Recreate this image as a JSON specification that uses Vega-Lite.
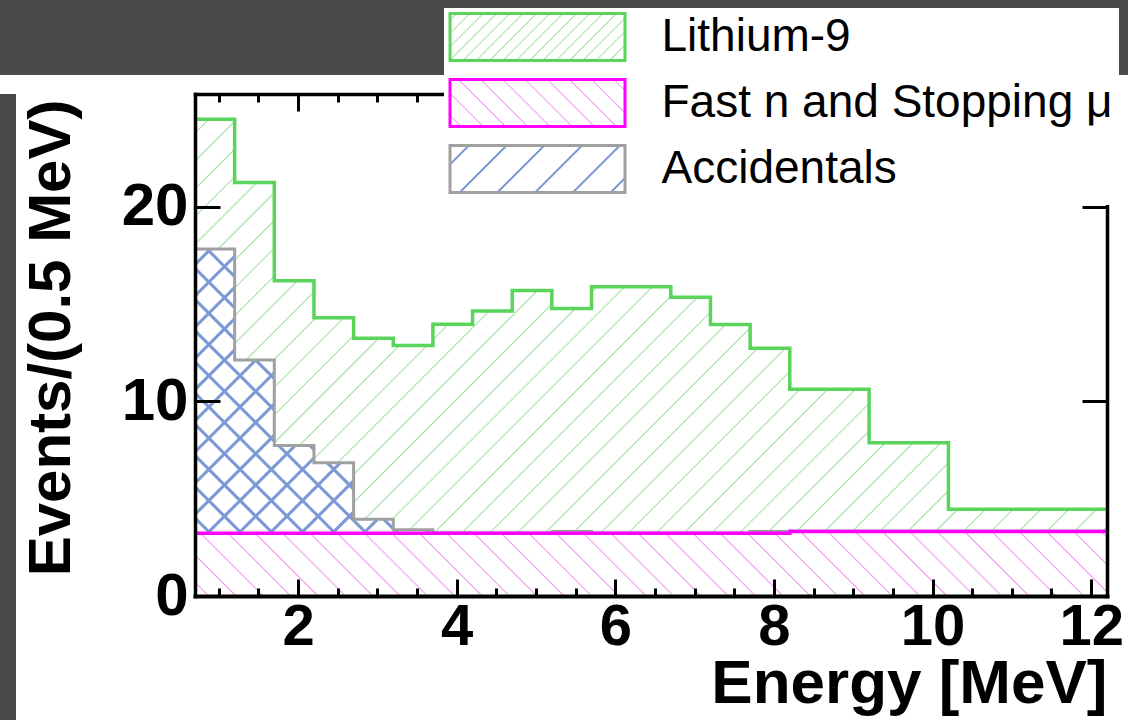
{
  "$schema": "https://vega.github.io/schema/vega-lite/v6.json",
  "background": "white",
  "padding": 0,
  "columns": 2,
  "spacing": {"row": 19, "column": 0},
  "bounds": "flush",
  "config": {
    "font": "Liberation Sans",
    "axis": {"labelFont": "Liberation Sans", "titleFont": "Liberation Sans"},
    "legend": {"labelFont": "Liberation Sans"}
  },
  "concat": [
    {"width": 195, "height": 75, "data": {"values": []}, "mark": "rect", "view": {"fill": "#4a4a4a", "stroke": null}},
    {"width": 933, "height": 75, "data": {"values": []}, "mark": "rect", "view": {"fill": "#4a4a4a", "stroke": null}},
    {"width": 16, "height": 626, "data": {"values": []}, "mark": "rect", "view": {"fill": "#4a4a4a", "stroke": null}},
    {
      "width": 912,
      "height": 502,
      "view": {"stroke": null},
      "data": {"values": [
        {"lo": 0.7, "hi": 1.2, "li9": 6.67, "fastn": 3.22, "acc": 14.61},
        {"lo": 1.2, "hi": 1.7, "li9": 9.12, "fastn": 3.22, "acc": 8.91},
        {"lo": 1.7, "hi": 2.2, "li9": 8.47, "fastn": 3.22, "acc": 4.51},
        {"lo": 2.2, "hi": 2.7, "li9": 7.45, "fastn": 3.22, "acc": 3.63},
        {"lo": 2.7, "hi": 3.2, "li9": 9.31, "fastn": 3.22, "acc": 0.72},
        {"lo": 3.2, "hi": 3.7, "li9": 9.46, "fastn": 3.22, "acc": 0.19},
        {"lo": 3.7, "hi": 4.2, "li9": 10.72, "fastn": 3.22, "acc": 0.03},
        {"lo": 4.2, "hi": 4.7, "li9": 11.41, "fastn": 3.22, "acc": 0.02},
        {"lo": 4.7, "hi": 5.2, "li9": 12.46, "fastn": 3.22, "acc": 0.02},
        {"lo": 5.2, "hi": 5.7, "li9": 11.45, "fastn": 3.22, "acc": 0.1},
        {"lo": 5.7, "hi": 6.2, "li9": 12.66, "fastn": 3.22, "acc": 0.02},
        {"lo": 6.2, "hi": 6.7, "li9": 12.66, "fastn": 3.22, "acc": 0.02},
        {"lo": 6.7, "hi": 7.2, "li9": 12.12, "fastn": 3.22, "acc": 0.02},
        {"lo": 7.2, "hi": 7.7, "li9": 10.71, "fastn": 3.22, "acc": 0.02},
        {"lo": 7.7, "hi": 8.2, "li9": 9.41, "fastn": 3.22, "acc": 0.1},
        {"lo": 8.2, "hi": 9.2, "li9": 7.29, "fastn": 3.32, "acc": 0.02},
        {"lo": 9.2, "hi": 10.2, "li9": 4.54, "fastn": 3.32, "acc": 0.02},
        {"lo": 10.2, "hi": 12.2, "li9": 1.12, "fastn": 3.32, "acc": 0.02}
      ]},
      "transform": [
        {"calculate": "datum.fastn", "as": "s1"},
        {"calculate": "datum.fastn + datum.acc", "as": "s2"},
        {"calculate": "datum.fastn + datum.acc + datum.li9", "as": "s3"},
        {"fold": ["lo", "hi"], "as": ["edge", "energy"]}
      ],
      "resolve": {"axis": {"x": "independent", "y": "independent"}},
      "layer": [
        {
          "mark": {"type": "area", "fillOpacity": 1, "fill": {"gradient": "linear", "x1": 0, "y1": 0, "x2": 1.196, "y2": 0.6251, "stops": [
            {"offset":0.0089,"color":"#fff"},{"offset":0.01,"color":"#9fe09f"},{"offset":0.0111,"color":"#fff"},
            {"offset":0.0289,"color":"#fff"},{"offset":0.03,"color":"#9fe09f"},{"offset":0.0311,"color":"#fff"},
            {"offset":0.0489,"color":"#fff"},{"offset":0.05,"color":"#9fe09f"},{"offset":0.0511,"color":"#fff"},
            {"offset":0.0689,"color":"#fff"},{"offset":0.07,"color":"#9fe09f"},{"offset":0.0711,"color":"#fff"},
            {"offset":0.0889,"color":"#fff"},{"offset":0.09,"color":"#9fe09f"},{"offset":0.0911,"color":"#fff"},
            {"offset":0.1089,"color":"#fff"},{"offset":0.11,"color":"#9fe09f"},{"offset":0.1111,"color":"#fff"},
            {"offset":0.1289,"color":"#fff"},{"offset":0.13,"color":"#9fe09f"},{"offset":0.1311,"color":"#fff"},
            {"offset":0.1489,"color":"#fff"},{"offset":0.15,"color":"#9fe09f"},{"offset":0.1511,"color":"#fff"},
            {"offset":0.1689,"color":"#fff"},{"offset":0.17,"color":"#9fe09f"},{"offset":0.1711,"color":"#fff"},
            {"offset":0.1889,"color":"#fff"},{"offset":0.19,"color":"#9fe09f"},{"offset":0.1911,"color":"#fff"},
            {"offset":0.2089,"color":"#fff"},{"offset":0.21,"color":"#9fe09f"},{"offset":0.2111,"color":"#fff"},
            {"offset":0.2289,"color":"#fff"},{"offset":0.23,"color":"#9fe09f"},{"offset":0.2311,"color":"#fff"},
            {"offset":0.2489,"color":"#fff"},{"offset":0.25,"color":"#9fe09f"},{"offset":0.2511,"color":"#fff"},
            {"offset":0.2689,"color":"#fff"},{"offset":0.27,"color":"#9fe09f"},{"offset":0.2711,"color":"#fff"},
            {"offset":0.2889,"color":"#fff"},{"offset":0.29,"color":"#9fe09f"},{"offset":0.2911,"color":"#fff"},
            {"offset":0.3089,"color":"#fff"},{"offset":0.31,"color":"#9fe09f"},{"offset":0.3111,"color":"#fff"},
            {"offset":0.3289,"color":"#fff"},{"offset":0.33,"color":"#9fe09f"},{"offset":0.3311,"color":"#fff"},
            {"offset":0.3489,"color":"#fff"},{"offset":0.35,"color":"#9fe09f"},{"offset":0.3511,"color":"#fff"},
            {"offset":0.3689,"color":"#fff"},{"offset":0.37,"color":"#9fe09f"},{"offset":0.3711,"color":"#fff"},
            {"offset":0.3889,"color":"#fff"},{"offset":0.39,"color":"#9fe09f"},{"offset":0.3911,"color":"#fff"},
            {"offset":0.4089,"color":"#fff"},{"offset":0.41,"color":"#9fe09f"},{"offset":0.4111,"color":"#fff"},
            {"offset":0.4289,"color":"#fff"},{"offset":0.43,"color":"#9fe09f"},{"offset":0.4311,"color":"#fff"},
            {"offset":0.4489,"color":"#fff"},{"offset":0.45,"color":"#9fe09f"},{"offset":0.4511,"color":"#fff"},
            {"offset":0.4689,"color":"#fff"},{"offset":0.47,"color":"#9fe09f"},{"offset":0.4711,"color":"#fff"},
            {"offset":0.4889,"color":"#fff"},{"offset":0.49,"color":"#9fe09f"},{"offset":0.4911,"color":"#fff"},
            {"offset":0.5089,"color":"#fff"},{"offset":0.51,"color":"#9fe09f"},{"offset":0.5111,"color":"#fff"},
            {"offset":0.5289,"color":"#fff"},{"offset":0.53,"color":"#9fe09f"},{"offset":0.5311,"color":"#fff"},
            {"offset":0.5489,"color":"#fff"},{"offset":0.55,"color":"#9fe09f"},{"offset":0.5511,"color":"#fff"},
            {"offset":0.5689,"color":"#fff"},{"offset":0.57,"color":"#9fe09f"},{"offset":0.5711,"color":"#fff"},
            {"offset":0.5889,"color":"#fff"},{"offset":0.59,"color":"#9fe09f"},{"offset":0.5911,"color":"#fff"},
            {"offset":0.6089,"color":"#fff"},{"offset":0.61,"color":"#9fe09f"},{"offset":0.6111,"color":"#fff"},
            {"offset":0.6289,"color":"#fff"},{"offset":0.63,"color":"#9fe09f"},{"offset":0.6311,"color":"#fff"},
            {"offset":0.6489,"color":"#fff"},{"offset":0.65,"color":"#9fe09f"},{"offset":0.6511,"color":"#fff"},
            {"offset":0.6689,"color":"#fff"},{"offset":0.67,"color":"#9fe09f"},{"offset":0.6711,"color":"#fff"},
            {"offset":0.6889,"color":"#fff"},{"offset":0.69,"color":"#9fe09f"},{"offset":0.6911,"color":"#fff"},
            {"offset":0.7089,"color":"#fff"},{"offset":0.71,"color":"#9fe09f"},{"offset":0.7111,"color":"#fff"},
            {"offset":0.7289,"color":"#fff"},{"offset":0.73,"color":"#9fe09f"},{"offset":0.7311,"color":"#fff"},
            {"offset":0.7489,"color":"#fff"},{"offset":0.75,"color":"#9fe09f"},{"offset":0.7511,"color":"#fff"},
            {"offset":0.7689,"color":"#fff"},{"offset":0.77,"color":"#9fe09f"},{"offset":0.7711,"color":"#fff"},
            {"offset":0.7889,"color":"#fff"},{"offset":0.79,"color":"#9fe09f"},{"offset":0.7911,"color":"#fff"},
            {"offset":0.8089,"color":"#fff"},{"offset":0.81,"color":"#9fe09f"},{"offset":0.8111,"color":"#fff"},
            {"offset":0.8289,"color":"#fff"},{"offset":0.83,"color":"#9fe09f"},{"offset":0.8311,"color":"#fff"},
            {"offset":0.8489,"color":"#fff"},{"offset":0.85,"color":"#9fe09f"},{"offset":0.8511,"color":"#fff"},
            {"offset":0.8689,"color":"#fff"},{"offset":0.87,"color":"#9fe09f"},{"offset":0.8711,"color":"#fff"},
            {"offset":0.8889,"color":"#fff"},{"offset":0.89,"color":"#9fe09f"},{"offset":0.8911,"color":"#fff"},
            {"offset":0.9089,"color":"#fff"},{"offset":0.91,"color":"#9fe09f"},{"offset":0.9111,"color":"#fff"},
            {"offset":0.9289,"color":"#fff"},{"offset":0.93,"color":"#9fe09f"},{"offset":0.9311,"color":"#fff"},
            {"offset":0.9489,"color":"#fff"},{"offset":0.95,"color":"#9fe09f"},{"offset":0.9511,"color":"#fff"},
            {"offset":0.9689,"color":"#fff"},{"offset":0.97,"color":"#9fe09f"},{"offset":0.9711,"color":"#fff"},
            {"offset":0.9889,"color":"#fff"},{"offset":0.99,"color":"#9fe09f"},{"offset":0.9911,"color":"#fff"}
          ]}},
          "encoding": {
            "x": {"field": "energy", "type": "quantitative", "scale": {"domain": [0.7, 12.2], "nice": false, "zero": false},
              "axis": {"orient": "bottom", "values": [2, 4, 6, 8, 10, 12], "format": "d", "ticks": false, "tickSize": 0, "domain": false, "grid": false,
                "labelFontSize": 58, "labelFontWeight": "bold", "labelColor": "black", "labelBaseline": "alphabetic", "labelPadding": 48, "labelFlush": false, "labelOverlap": false,
                "title": "Energy [MeV]", "titleFontSize": 62, "titleFontWeight": "bold", "titleColor": "black", "titleAlign": "right", "titleBaseline": "alphabetic", "titleX": 912, "titleY": 106, "zindex": 1}},
            "y": {"field": "s3", "type": "quantitative", "stack": null, "scale": {"domain": [0, 25.8], "nice": false},
              "axis": {"orient": "left", "values": [0, 10, 20], "format": "d", "ticks": false, "tickSize": 0, "domain": false, "grid": false,
                "labelFontSize": 60, "labelFontWeight": "bold", "labelColor": "black", "labelBaseline": "middle", "labelPadding": 7, "labelFlush": false, "labelOverlap": false,
                "title": "Events/(0.5 MeV)", "titleFontSize": 60, "titleFontWeight": "bold", "titleColor": "black", "titleAngle": -90, "titleAlign": "right", "titleBaseline": "alphabetic", "titleX": -126, "titleY": 5, "zindex": 1}}
          }
        },
        {
          "transform": [{"filter": "datum.lo < 4"}],
          "mark": {"type": "area", "fillOpacity": 1, "fill": {"gradient": "linear", "x1": 0, "y1": 0, "x2": 0.8778, "y2": 1.0977, "stops": [
            {"offset":0.0205,"color":"#fff"},{"offset":0.0225,"color":"#7d99d6"},{"offset":0.0275,"color":"#7d99d6"},{"offset":0.0295,"color":"#fff"},
            {"offset":0.0705,"color":"#fff"},{"offset":0.0725,"color":"#7d99d6"},{"offset":0.0775,"color":"#7d99d6"},{"offset":0.0795,"color":"#fff"},
            {"offset":0.1205,"color":"#fff"},{"offset":0.1225,"color":"#7d99d6"},{"offset":0.1275,"color":"#7d99d6"},{"offset":0.1295,"color":"#fff"},
            {"offset":0.1705,"color":"#fff"},{"offset":0.1725,"color":"#7d99d6"},{"offset":0.1775,"color":"#7d99d6"},{"offset":0.1795,"color":"#fff"},
            {"offset":0.2205,"color":"#fff"},{"offset":0.2225,"color":"#7d99d6"},{"offset":0.2275,"color":"#7d99d6"},{"offset":0.2295,"color":"#fff"},
            {"offset":0.2705,"color":"#fff"},{"offset":0.2725,"color":"#7d99d6"},{"offset":0.2775,"color":"#7d99d6"},{"offset":0.2795,"color":"#fff"},
            {"offset":0.3205,"color":"#fff"},{"offset":0.3225,"color":"#7d99d6"},{"offset":0.3275,"color":"#7d99d6"},{"offset":0.3295,"color":"#fff"},
            {"offset":0.3705,"color":"#fff"},{"offset":0.3725,"color":"#7d99d6"},{"offset":0.3775,"color":"#7d99d6"},{"offset":0.3795,"color":"#fff"},
            {"offset":0.4205,"color":"#fff"},{"offset":0.4225,"color":"#7d99d6"},{"offset":0.4275,"color":"#7d99d6"},{"offset":0.4295,"color":"#fff"},
            {"offset":0.4705,"color":"#fff"},{"offset":0.4725,"color":"#7d99d6"},{"offset":0.4775,"color":"#7d99d6"},{"offset":0.4795,"color":"#fff"},
            {"offset":0.5205,"color":"#fff"},{"offset":0.5225,"color":"#7d99d6"},{"offset":0.5275,"color":"#7d99d6"},{"offset":0.5295,"color":"#fff"},
            {"offset":0.5705,"color":"#fff"},{"offset":0.5725,"color":"#7d99d6"},{"offset":0.5775,"color":"#7d99d6"},{"offset":0.5795,"color":"#fff"},
            {"offset":0.6205,"color":"#fff"},{"offset":0.6225,"color":"#7d99d6"},{"offset":0.6275,"color":"#7d99d6"},{"offset":0.6295,"color":"#fff"},
            {"offset":0.6705,"color":"#fff"},{"offset":0.6725,"color":"#7d99d6"},{"offset":0.6775,"color":"#7d99d6"},{"offset":0.6795,"color":"#fff"},
            {"offset":0.7205,"color":"#fff"},{"offset":0.7225,"color":"#7d99d6"},{"offset":0.7275,"color":"#7d99d6"},{"offset":0.7295,"color":"#fff"},
            {"offset":0.7705,"color":"#fff"},{"offset":0.7725,"color":"#7d99d6"},{"offset":0.7775,"color":"#7d99d6"},{"offset":0.7795,"color":"#fff"},
            {"offset":0.8205,"color":"#fff"},{"offset":0.8225,"color":"#7d99d6"},{"offset":0.8275,"color":"#7d99d6"},{"offset":0.8295,"color":"#fff"},
            {"offset":0.8705,"color":"#fff"},{"offset":0.8725,"color":"#7d99d6"},{"offset":0.8775,"color":"#7d99d6"},{"offset":0.8795,"color":"#fff"},
            {"offset":0.9205,"color":"#fff"},{"offset":0.9225,"color":"#7d99d6"},{"offset":0.9275,"color":"#7d99d6"},{"offset":0.9295,"color":"#fff"},
            {"offset":0.9705,"color":"#fff"},{"offset":0.9725,"color":"#7d99d6"},{"offset":0.9775,"color":"#7d99d6"},{"offset":0.9795,"color":"#fff"}
          ]}},
          "encoding": {
            "x": {"field": "energy", "type": "quantitative", "scale": {"domain": [0.7, 12.2], "nice": false, "zero": false},
              "axis": {"orient": "bottom", "values": [2, 4, 6, 8, 10, 12], "labels": false, "ticks": true, "tickSize": -17, "tickWidth": 3, "tickColor": "black", "domain": true, "domainColor": "black", "domainWidth": 4, "domainCap": "square", "grid": false, "title": null, "zindex": 1}},
            "y": {"field": "s2", "type": "quantitative", "stack": null, "scale": {"domain": [0, 25.8], "nice": false},
              "axis": {"orient": "left", "values": [0, 10, 20], "labels": false, "ticks": true, "tickSize": -25, "tickWidth": 3, "tickColor": "black", "domain": true, "domainColor": "black", "domainWidth": 3.5, "domainCap": "square", "grid": false, "title": null, "zindex": 1}}
          }
        },
        {
          "transform": [{"filter": "datum.lo < 4"}],
          "mark": {"type": "area", "fillOpacity": 1, "fill": {"gradient": "linear", "x1": 0, "y1": 1, "x2": 0.8778, "y2": -0.0977, "stops": [
            {"offset":0.0205,"color":"rgba(125,153,214,0)"},{"offset":0.0225,"color":"#7d99d6"},{"offset":0.0275,"color":"#7d99d6"},{"offset":0.0295,"color":"rgba(125,153,214,0)"},
            {"offset":0.0705,"color":"rgba(125,153,214,0)"},{"offset":0.0725,"color":"#7d99d6"},{"offset":0.0775,"color":"#7d99d6"},{"offset":0.0795,"color":"rgba(125,153,214,0)"},
            {"offset":0.1205,"color":"rgba(125,153,214,0)"},{"offset":0.1225,"color":"#7d99d6"},{"offset":0.1275,"color":"#7d99d6"},{"offset":0.1295,"color":"rgba(125,153,214,0)"},
            {"offset":0.1705,"color":"rgba(125,153,214,0)"},{"offset":0.1725,"color":"#7d99d6"},{"offset":0.1775,"color":"#7d99d6"},{"offset":0.1795,"color":"rgba(125,153,214,0)"},
            {"offset":0.2205,"color":"rgba(125,153,214,0)"},{"offset":0.2225,"color":"#7d99d6"},{"offset":0.2275,"color":"#7d99d6"},{"offset":0.2295,"color":"rgba(125,153,214,0)"},
            {"offset":0.2705,"color":"rgba(125,153,214,0)"},{"offset":0.2725,"color":"#7d99d6"},{"offset":0.2775,"color":"#7d99d6"},{"offset":0.2795,"color":"rgba(125,153,214,0)"},
            {"offset":0.3205,"color":"rgba(125,153,214,0)"},{"offset":0.3225,"color":"#7d99d6"},{"offset":0.3275,"color":"#7d99d6"},{"offset":0.3295,"color":"rgba(125,153,214,0)"},
            {"offset":0.3705,"color":"rgba(125,153,214,0)"},{"offset":0.3725,"color":"#7d99d6"},{"offset":0.3775,"color":"#7d99d6"},{"offset":0.3795,"color":"rgba(125,153,214,0)"},
            {"offset":0.4205,"color":"rgba(125,153,214,0)"},{"offset":0.4225,"color":"#7d99d6"},{"offset":0.4275,"color":"#7d99d6"},{"offset":0.4295,"color":"rgba(125,153,214,0)"},
            {"offset":0.4705,"color":"rgba(125,153,214,0)"},{"offset":0.4725,"color":"#7d99d6"},{"offset":0.4775,"color":"#7d99d6"},{"offset":0.4795,"color":"rgba(125,153,214,0)"},
            {"offset":0.5205,"color":"rgba(125,153,214,0)"},{"offset":0.5225,"color":"#7d99d6"},{"offset":0.5275,"color":"#7d99d6"},{"offset":0.5295,"color":"rgba(125,153,214,0)"},
            {"offset":0.5705,"color":"rgba(125,153,214,0)"},{"offset":0.5725,"color":"#7d99d6"},{"offset":0.5775,"color":"#7d99d6"},{"offset":0.5795,"color":"rgba(125,153,214,0)"},
            {"offset":0.6205,"color":"rgba(125,153,214,0)"},{"offset":0.6225,"color":"#7d99d6"},{"offset":0.6275,"color":"#7d99d6"},{"offset":0.6295,"color":"rgba(125,153,214,0)"},
            {"offset":0.6705,"color":"rgba(125,153,214,0)"},{"offset":0.6725,"color":"#7d99d6"},{"offset":0.6775,"color":"#7d99d6"},{"offset":0.6795,"color":"rgba(125,153,214,0)"},
            {"offset":0.7205,"color":"rgba(125,153,214,0)"},{"offset":0.7225,"color":"#7d99d6"},{"offset":0.7275,"color":"#7d99d6"},{"offset":0.7295,"color":"rgba(125,153,214,0)"},
            {"offset":0.7705,"color":"rgba(125,153,214,0)"},{"offset":0.7725,"color":"#7d99d6"},{"offset":0.7775,"color":"#7d99d6"},{"offset":0.7795,"color":"rgba(125,153,214,0)"},
            {"offset":0.8205,"color":"rgba(125,153,214,0)"},{"offset":0.8225,"color":"#7d99d6"},{"offset":0.8275,"color":"#7d99d6"},{"offset":0.8295,"color":"rgba(125,153,214,0)"},
            {"offset":0.8705,"color":"rgba(125,153,214,0)"},{"offset":0.8725,"color":"#7d99d6"},{"offset":0.8775,"color":"#7d99d6"},{"offset":0.8795,"color":"rgba(125,153,214,0)"},
            {"offset":0.9205,"color":"rgba(125,153,214,0)"},{"offset":0.9225,"color":"#7d99d6"},{"offset":0.9275,"color":"#7d99d6"},{"offset":0.9295,"color":"rgba(125,153,214,0)"},
            {"offset":0.9705,"color":"rgba(125,153,214,0)"},{"offset":0.9725,"color":"#7d99d6"},{"offset":0.9775,"color":"#7d99d6"},{"offset":0.9795,"color":"rgba(125,153,214,0)"}
          ]}},
          "encoding": {
            "x": {"field": "energy", "type": "quantitative", "scale": {"domain": [0.7, 12.2], "nice": false, "zero": false},
              "axis": {"orient": "bottom", "values": [1, 1.5, 2.5, 3, 3.5, 4.5, 5, 5.5, 6.5, 7, 7.5, 8.5, 9, 9.5, 10.5, 11, 11.5], "labels": false, "ticks": true, "tickSize": -8, "tickWidth": 3, "tickColor": "black", "domain": false, "grid": false, "title": null, "zindex": 1}},
            "y": {"field": "s2", "type": "quantitative", "stack": null, "scale": {"domain": [0, 25.8], "nice": false},
              "axis": {"orient": "right", "values": [0, 10, 20], "labels": false, "ticks": true, "tickSize": -25, "tickWidth": 3, "tickColor": "black", "domain": true, "domainColor": "black", "domainWidth": 3.5, "domainCap": "square", "grid": false, "title": null, "zindex": 1}}
          }
        },
        {
          "mark": {"type": "area", "fillOpacity": 1, "fill": {"gradient": "linear", "x1": 0, "y1": 1, "x2": 1.0655, "y2": 0.9245, "stops": [
            {"offset":0.0125,"color":"#fff"},{"offset":0.014,"color":"#f294f2"},{"offset":0.0155,"color":"#fff"},
            {"offset":0.0405,"color":"#fff"},{"offset":0.042,"color":"#f294f2"},{"offset":0.0435,"color":"#fff"},
            {"offset":0.0685,"color":"#fff"},{"offset":0.07,"color":"#f294f2"},{"offset":0.0715,"color":"#fff"},
            {"offset":0.0965,"color":"#fff"},{"offset":0.098,"color":"#f294f2"},{"offset":0.0995,"color":"#fff"},
            {"offset":0.1245,"color":"#fff"},{"offset":0.126,"color":"#f294f2"},{"offset":0.1275,"color":"#fff"},
            {"offset":0.1525,"color":"#fff"},{"offset":0.154,"color":"#f294f2"},{"offset":0.1555,"color":"#fff"},
            {"offset":0.1805,"color":"#fff"},{"offset":0.182,"color":"#f294f2"},{"offset":0.1835,"color":"#fff"},
            {"offset":0.2085,"color":"#fff"},{"offset":0.21,"color":"#f294f2"},{"offset":0.2115,"color":"#fff"},
            {"offset":0.2365,"color":"#fff"},{"offset":0.238,"color":"#f294f2"},{"offset":0.2395,"color":"#fff"},
            {"offset":0.2645,"color":"#fff"},{"offset":0.266,"color":"#f294f2"},{"offset":0.2675,"color":"#fff"},
            {"offset":0.2925,"color":"#fff"},{"offset":0.294,"color":"#f294f2"},{"offset":0.2955,"color":"#fff"},
            {"offset":0.3205,"color":"#fff"},{"offset":0.322,"color":"#f294f2"},{"offset":0.3235,"color":"#fff"},
            {"offset":0.3485,"color":"#fff"},{"offset":0.35,"color":"#f294f2"},{"offset":0.3515,"color":"#fff"},
            {"offset":0.3765,"color":"#fff"},{"offset":0.378,"color":"#f294f2"},{"offset":0.3795,"color":"#fff"},
            {"offset":0.4045,"color":"#fff"},{"offset":0.406,"color":"#f294f2"},{"offset":0.4075,"color":"#fff"},
            {"offset":0.4325,"color":"#fff"},{"offset":0.434,"color":"#f294f2"},{"offset":0.4355,"color":"#fff"},
            {"offset":0.4605,"color":"#fff"},{"offset":0.462,"color":"#f294f2"},{"offset":0.4635,"color":"#fff"},
            {"offset":0.4885,"color":"#fff"},{"offset":0.49,"color":"#f294f2"},{"offset":0.4915,"color":"#fff"},
            {"offset":0.5165,"color":"#fff"},{"offset":0.518,"color":"#f294f2"},{"offset":0.5195,"color":"#fff"},
            {"offset":0.5445,"color":"#fff"},{"offset":0.546,"color":"#f294f2"},{"offset":0.5475,"color":"#fff"},
            {"offset":0.5725,"color":"#fff"},{"offset":0.574,"color":"#f294f2"},{"offset":0.5755,"color":"#fff"},
            {"offset":0.6005,"color":"#fff"},{"offset":0.602,"color":"#f294f2"},{"offset":0.6035,"color":"#fff"},
            {"offset":0.6285,"color":"#fff"},{"offset":0.63,"color":"#f294f2"},{"offset":0.6315,"color":"#fff"},
            {"offset":0.6565,"color":"#fff"},{"offset":0.658,"color":"#f294f2"},{"offset":0.6595,"color":"#fff"},
            {"offset":0.6845,"color":"#fff"},{"offset":0.686,"color":"#f294f2"},{"offset":0.6875,"color":"#fff"},
            {"offset":0.7125,"color":"#fff"},{"offset":0.714,"color":"#f294f2"},{"offset":0.7155,"color":"#fff"},
            {"offset":0.7405,"color":"#fff"},{"offset":0.742,"color":"#f294f2"},{"offset":0.7435,"color":"#fff"},
            {"offset":0.7685,"color":"#fff"},{"offset":0.77,"color":"#f294f2"},{"offset":0.7715,"color":"#fff"},
            {"offset":0.7965,"color":"#fff"},{"offset":0.798,"color":"#f294f2"},{"offset":0.7995,"color":"#fff"},
            {"offset":0.8245,"color":"#fff"},{"offset":0.826,"color":"#f294f2"},{"offset":0.8275,"color":"#fff"},
            {"offset":0.8525,"color":"#fff"},{"offset":0.854,"color":"#f294f2"},{"offset":0.8555,"color":"#fff"},
            {"offset":0.8805,"color":"#fff"},{"offset":0.882,"color":"#f294f2"},{"offset":0.8835,"color":"#fff"},
            {"offset":0.9085,"color":"#fff"},{"offset":0.91,"color":"#f294f2"},{"offset":0.9115,"color":"#fff"},
            {"offset":0.9365,"color":"#fff"},{"offset":0.938,"color":"#f294f2"},{"offset":0.9395,"color":"#fff"},
            {"offset":0.9645,"color":"#fff"},{"offset":0.966,"color":"#f294f2"},{"offset":0.9675,"color":"#fff"},
            {"offset":0.9925,"color":"#fff"},{"offset":0.994,"color":"#f294f2"},{"offset":0.9955,"color":"#fff"}
          ]}},
          "encoding": {
            "x": {"field": "energy", "type": "quantitative", "scale": {"domain": [0.7, 12.2], "nice": false, "zero": false},
              "axis": {"orient": "top", "values": [2, 4, 6, 8, 10, 12], "labels": false, "ticks": true, "tickSize": -17, "tickWidth": 3, "tickColor": "black", "domain": true, "domainColor": "black", "domainWidth": 3.5, "domainCap": "square", "grid": false, "title": null, "zindex": 1}},
            "y": {"field": "s1", "type": "quantitative", "stack": null, "scale": {"domain": [0, 25.8], "nice": false}, "axis": null}
          }
        },
        {
          "mark": {"type": "line", "stroke": "#a0a0a0", "strokeWidth": 3},
          "encoding": {
            "x": {"field": "energy", "type": "quantitative", "scale": {"domain": [0.7, 12.2], "nice": false, "zero": false},
              "axis": {"orient": "top", "values": [1, 1.5, 2.5, 3, 3.5, 4.5, 5, 5.5, 6.5, 7, 7.5, 8.5, 9, 9.5, 10.5, 11, 11.5], "labels": false, "ticks": true, "tickSize": -8, "tickWidth": 3, "tickColor": "black", "domain": false, "grid": false, "title": null, "zindex": 1}},
            "y": {"field": "s2", "type": "quantitative", "stack": null, "scale": {"domain": [0, 25.8], "nice": false}, "axis": null}
          }
        },
        {
          "mark": {"type": "line", "stroke": "#ff00ff", "strokeWidth": 3.5},
          "encoding": {
            "x": {"field": "energy", "type": "quantitative", "scale": {"domain": [0.7, 12.2], "nice": false, "zero": false}, "axis": null},
            "y": {"field": "s1", "type": "quantitative", "stack": null, "scale": {"domain": [0, 25.8], "nice": false}, "axis": null}
          }
        },
        {
          "mark": {"type": "line", "stroke": "#5ad45a", "strokeWidth": 3.5},
          "encoding": {
            "x": {"field": "energy", "type": "quantitative", "scale": {"domain": [0.7, 12.2], "nice": false, "zero": false}, "axis": null},
            "y": {"field": "s3", "type": "quantitative", "stack": null, "scale": {"domain": [0, 25.8], "nice": false}, "axis": null}
          }
        },
        {
          "transform": [{"fold": ["li9", "fastn", "acc"], "as": ["comp", "n"]}],
          "mark": {"type": "point", "opacity": 0},
          "encoding": {
            "fill": {"field": "comp", "type": "nominal",
              "scale": {"domain": ["li9", "fastn", "acc"], "range": [
                {"expr": "{gradient:'linear',x1:0,y1:0,x2:1.1832,y2:0.3178,stops:[{offset:0.024,color:'#fff'},{offset:0.03,color:'#9fe09f'},{offset:0.036,color:'#fff'},{offset:0.084,color:'#fff'},{offset:0.09,color:'#9fe09f'},{offset:0.096,color:'#fff'},{offset:0.144,color:'#fff'},{offset:0.15,color:'#9fe09f'},{offset:0.156,color:'#fff'},{offset:0.204,color:'#fff'},{offset:0.21,color:'#9fe09f'},{offset:0.216,color:'#fff'},{offset:0.264,color:'#fff'},{offset:0.27,color:'#9fe09f'},{offset:0.276,color:'#fff'},{offset:0.324,color:'#fff'},{offset:0.33,color:'#9fe09f'},{offset:0.336,color:'#fff'},{offset:0.384,color:'#fff'},{offset:0.39,color:'#9fe09f'},{offset:0.396,color:'#fff'},{offset:0.444,color:'#fff'},{offset:0.45,color:'#9fe09f'},{offset:0.456,color:'#fff'},{offset:0.504,color:'#fff'},{offset:0.51,color:'#9fe09f'},{offset:0.516,color:'#fff'},{offset:0.564,color:'#fff'},{offset:0.57,color:'#9fe09f'},{offset:0.576,color:'#fff'},{offset:0.624,color:'#fff'},{offset:0.63,color:'#9fe09f'},{offset:0.636,color:'#fff'},{offset:0.684,color:'#fff'},{offset:0.69,color:'#9fe09f'},{offset:0.696,color:'#fff'},{offset:0.744,color:'#fff'},{offset:0.75,color:'#9fe09f'},{offset:0.756,color:'#fff'},{offset:0.804,color:'#fff'},{offset:0.81,color:'#9fe09f'},{offset:0.816,color:'#fff'},{offset:0.864,color:'#fff'},{offset:0.87,color:'#9fe09f'},{offset:0.876,color:'#fff'},{offset:0.924,color:'#fff'},{offset:0.93,color:'#9fe09f'},{offset:0.936,color:'#fff'},{offset:0.984,color:'#fff'},{offset:0.99,color:'#9fe09f'},{offset:0.996,color:'#fff'}]}"},
                {"expr": "{gradient:'linear',x1:0,y1:1,x2:1.1832,y2:0.6822,stops:[{offset:0.044,color:'#fff'},{offset:0.05,color:'#f294f2'},{offset:0.056,color:'#fff'},{offset:0.144,color:'#fff'},{offset:0.15,color:'#f294f2'},{offset:0.156,color:'#fff'},{offset:0.244,color:'#fff'},{offset:0.25,color:'#f294f2'},{offset:0.256,color:'#fff'},{offset:0.344,color:'#fff'},{offset:0.35,color:'#f294f2'},{offset:0.356,color:'#fff'},{offset:0.444,color:'#fff'},{offset:0.45,color:'#f294f2'},{offset:0.456,color:'#fff'},{offset:0.544,color:'#fff'},{offset:0.55,color:'#f294f2'},{offset:0.556,color:'#fff'},{offset:0.644,color:'#fff'},{offset:0.65,color:'#f294f2'},{offset:0.656,color:'#fff'},{offset:0.744,color:'#fff'},{offset:0.75,color:'#f294f2'},{offset:0.756,color:'#fff'},{offset:0.844,color:'#fff'},{offset:0.85,color:'#f294f2'},{offset:0.856,color:'#fff'},{offset:0.944,color:'#fff'},{offset:0.95,color:'#f294f2'},{offset:0.956,color:'#fff'}]}"},
                {"expr": "{gradient:'linear',x1:0,y1:0,x2:1.1832,y2:0.3178,stops:[{offset:0.076,color:'#fff'},{offset:0.081,color:'#7d99d6'},{offset:0.089,color:'#7d99d6'},{offset:0.094,color:'#fff'},{offset:0.246,color:'#fff'},{offset:0.251,color:'#7d99d6'},{offset:0.259,color:'#7d99d6'},{offset:0.264,color:'#fff'},{offset:0.416,color:'#fff'},{offset:0.421,color:'#7d99d6'},{offset:0.429,color:'#7d99d6'},{offset:0.434,color:'#fff'},{offset:0.586,color:'#fff'},{offset:0.591,color:'#7d99d6'},{offset:0.599,color:'#7d99d6'},{offset:0.604,color:'#fff'},{offset:0.756,color:'#fff'},{offset:0.761,color:'#7d99d6'},{offset:0.769,color:'#7d99d6'},{offset:0.774,color:'#fff'},{offset:0.926,color:'#fff'},{offset:0.931,color:'#7d99d6'},{offset:0.939,color:'#7d99d6'},{offset:0.944,color:'#fff'}]}"}
              ]},
              "legend": {
                "orient": "none", "legendX": 444, "legendY": 8, "title": null, "direction": "vertical",
                "symbolSize": 1225, "symbolStrokeWidth": 3, "symbolOpacity": 1,
                "symbolOffset": 64.5, "labelOffset": 101, "labelFontSize": 46, "labelFontWeight": "normal", "labelColor": "black",
                "labelLimit": 700, "labelBaseline": "middle", "rowPadding": 6, "padding": 6, "fillColor": "white", "zindex": 2,
                "labelExpr": "datum.value == 'li9' ? 'Lithium-9' : datum.value == 'fastn' ? 'Fast n and Stopping μ' : 'Accidentals'"
              }
            },
            "stroke": {"field": "comp", "type": "nominal",
              "scale": {"domain": ["li9", "fastn", "acc"], "range": ["#5ad45a", "#ff00ff", "#a0a0a0"]},
              "legend": {
                "orient": "none", "legendX": 444, "legendY": 8, "title": null, "direction": "vertical",
                "symbolSize": 1225, "symbolStrokeWidth": 3, "symbolOpacity": 1,
                "symbolOffset": 64.5, "labelOffset": 101, "labelFontSize": 46, "labelFontWeight": "normal", "labelColor": "black",
                "labelLimit": 700, "labelBaseline": "middle", "rowPadding": 6, "padding": 6, "fillColor": "white", "zindex": 2,
                "labelExpr": "datum.value == 'li9' ? 'Lithium-9' : datum.value == 'fastn' ? 'Fast n and Stopping μ' : 'Accidentals'"
              }
            },
            "shape": {"field": "comp", "type": "nominal",
              "scale": {"domain": ["li9", "fastn", "acc"], "range": ["M-5,-1.343H5V1.343H-5Z", "M-5,-1.343H5V1.343H-5Z", "M-5,-1.343H5V1.343H-5Z"]},
              "legend": {
                "orient": "none", "legendX": 444, "legendY": 8, "title": null, "direction": "vertical",
                "symbolSize": 1225, "symbolStrokeWidth": 3, "symbolOpacity": 1,
                "symbolOffset": 64.5, "labelOffset": 101, "labelFontSize": 46, "labelFontWeight": "normal", "labelColor": "black",
                "labelLimit": 700, "labelBaseline": "middle", "rowPadding": 6, "padding": 6, "fillColor": "white", "zindex": 2,
                "labelExpr": "datum.value == 'li9' ? 'Lithium-9' : datum.value == 'fastn' ? 'Fast n and Stopping μ' : 'Accidentals'"
              }
            }
          }
        }
      ]
    }
  ]
}
